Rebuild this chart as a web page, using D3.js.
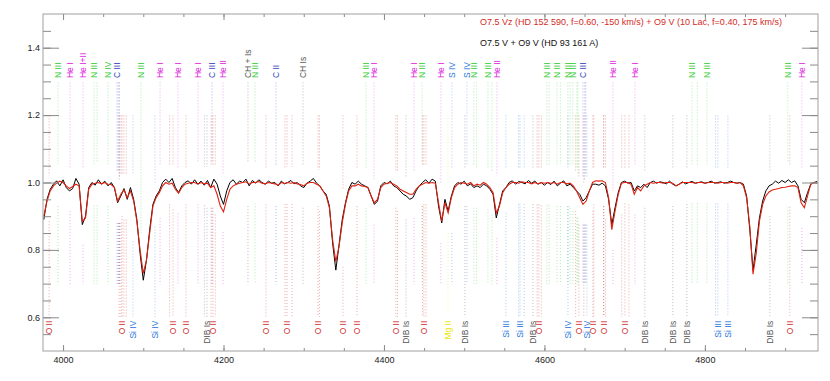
<!DOCTYPE html>
<html>
<head>
<meta charset="utf-8">
<script src="https://cdn.jsdelivr.net/npm/d3@7"></script>
<style>
body { margin: 0; background: #fff; }
svg { display: block; font-family: "Liberation Sans", Arial, sans-serif; }
</style>
</head>
<body>
<div id="main"></div>
<script>
// wavelength grid of the spectra (Angstrom)
const waveStart = 3976, waveStep = 4;

// O7.5 V + O9 V (HD 93 161 A), black
const fluxObserved = [
    0.89, 0.95, 0.98, 0.995, 1.005, 0.99, 1.008, 0.985, 0.975, 0.982,
    1.012, 0.995, 0.875, 0.9, 0.985, 1.0, 0.992, 1.008, 0.995, 1.004,
    0.99, 1.0, 0.985, 0.94, 0.96, 0.982, 0.95, 0.985, 0.95, 0.89,
    0.79, 0.71, 0.77, 0.86, 0.935, 0.96, 0.975, 1.0, 1.01, 1.0,
    1.012, 0.985, 0.97, 0.99, 1.0, 1.005, 0.995, 1.008, 0.995, 1.004,
    0.992, 1.006, 0.985, 1.01, 0.995, 0.96, 0.935, 0.975, 1.0, 1.008,
    0.995, 1.004, 1.0, 1.01, 0.99, 1.006, 0.998, 1.008, 1.0, 0.995,
    1.004, 0.998, 1.0, 0.99, 1.004, 0.996, 1.0, 1.006, 0.996, 1.0,
    0.99, 0.985, 0.998, 1.004, 1.012, 0.998, 0.99, 0.975, 0.965, 0.93,
    0.82, 0.74, 0.815, 0.89, 0.94, 0.98, 1.0, 0.995, 1.004, 0.995,
    0.99, 0.985, 0.96, 0.935, 0.945, 0.99, 1.0, 0.996, 1.004, 0.99,
    0.985, 0.975, 0.965, 0.96, 0.95, 0.955, 0.975, 0.99, 1.0, 1.008,
    0.998, 1.01, 1.004, 0.93, 0.88, 0.95, 0.915, 0.96, 0.99, 1.0,
    0.995, 1.004, 0.99, 0.996, 0.985, 0.99, 0.985, 0.995, 0.99, 0.98,
    0.965, 0.895, 0.935, 0.975, 0.985, 1.0, 1.005, 0.995, 1.003, 1.0,
    0.996, 1.006, 0.998, 1.004, 0.995, 1.0, 0.992, 1.0, 0.994, 1.004,
    0.99, 0.998, 1.005, 0.99, 0.995, 0.985, 0.975, 0.965, 0.945, 0.955,
    0.975, 0.995, 0.995, 0.992, 0.998, 0.99, 0.95, 0.875, 0.925, 0.97,
    1.0, 1.004, 0.998, 1.0, 0.975, 0.99, 0.985, 0.995, 0.985, 1.0,
    1.004, 0.998, 1.002, 1.0, 0.996, 1.004, 0.995, 0.99, 0.995, 1.002,
    0.996, 1.0, 1.003, 0.998, 1.0, 1.002, 0.998, 1.0, 1.004, 0.998,
    1.0, 1.002, 0.998, 1.0, 1.004, 1.0, 0.998, 1.0, 0.995, 0.96,
    0.86, 0.74, 0.815, 0.895, 0.945, 0.975, 0.99, 0.995, 1.004, 0.998,
    1.006, 1.0, 1.008, 1.0, 1.005, 0.99, 0.95, 0.94, 0.97, 0.995,
    1.0, 1.003
];

// O7.5 Vz (HD 152 590) + O9 V (10 Lac) model, red
const fluxModel = [
    0.90, 0.945, 0.975, 0.99, 0.998, 1.004, 1.0, 0.99, 0.982, 0.988,
    0.995, 0.99, 0.885, 0.895, 0.98, 0.995, 0.998, 1.0, 0.996, 1.0,
    0.995, 0.994, 0.985, 0.945, 0.965, 0.978, 0.955, 0.975, 0.945, 0.885,
    0.8, 0.73, 0.77, 0.85, 0.93, 0.955, 0.97, 0.99, 1.0, 0.995,
    0.998, 0.98, 0.968, 0.985, 0.995, 0.998, 1.0, 1.0, 0.995, 1.0,
    0.996, 0.998, 0.985, 0.99, 0.965, 0.93, 0.913, 0.95, 0.98, 0.99,
    0.995, 0.998, 1.0, 1.002, 0.995, 1.0, 1.0, 1.003, 0.998, 0.996,
    1.0, 0.998, 0.996, 0.992, 1.0, 0.997, 1.0, 0.998, 1.0, 0.996,
    0.994, 0.99, 0.998, 1.0, 1.0, 0.995, 0.99, 0.975, 0.96, 0.925,
    0.83, 0.765, 0.81, 0.88, 0.935, 0.975, 0.99, 0.99, 0.995, 0.99,
    0.988, 0.985, 0.96, 0.94, 0.95, 0.985, 0.995, 0.998, 1.0, 0.995,
    0.99, 0.98, 0.975, 0.97, 0.965, 0.965, 0.98, 0.99, 0.995, 1.0,
    0.998, 1.0, 0.998, 0.94, 0.885, 0.94, 0.91, 0.955, 0.985, 0.995,
    1.0, 0.998, 0.995, 1.0, 0.99, 0.995, 0.992, 1.0, 0.995, 0.985,
    0.97, 0.91, 0.93, 0.97, 0.985, 0.995, 1.0, 1.0, 0.998, 1.002,
    1.0, 1.0, 0.996, 1.0, 0.996, 1.0, 0.998, 1.0, 0.998, 1.0,
    0.995, 1.0, 1.0, 0.996, 0.998, 0.99, 0.975, 0.955, 0.935, 0.945,
    0.975, 1.0, 1.005, 1.004, 1.005, 1.0, 0.955, 0.86, 0.915, 0.965,
    0.998, 1.0, 1.0, 0.995, 0.965, 0.985, 0.975, 0.99, 0.995, 1.0,
    0.998, 1.0, 1.0, 0.998, 1.0, 1.0, 0.998, 0.99, 0.995, 1.0,
    1.0, 1.0, 1.0, 0.998, 1.0, 1.0, 0.998, 1.0, 1.0, 1.0,
    0.998, 1.0, 1.0, 0.998, 1.0, 1.0, 0.998, 1.0, 0.99, 0.955,
    0.87, 0.728, 0.79, 0.885, 0.935, 0.96, 0.972, 0.978, 0.98, 0.982,
    0.985, 0.986, 0.988, 0.99, 0.99, 0.985, 0.94, 0.925, 0.96, 0.995,
    1.0, 0.998
];

// line identifications: [wavelength, ion, label] -- empty label = extra component
const topLines = [
    [3993.8, "N", "N III"], [4008.7, "He", "He I"], [4024.9, "He", "He I+II"],
    [4038.6, "N", "N III"], [4042.4, "N", ""], [4056.1, "N", "N IV"],
    [4067.3, "C", "C III"], [4068.9, "C", ""], [4070.4, "C", ""],
    [4097.2, "N", "N III"], [4120.9, "He", "He I"], [4143.3, "He", "He I"],
    [4168.2, "He", "He I"], [4185.7, "C", "C III"], [4199.4, "He", "He II"],
    [4230.5, "IS", "CH + Is"], [4239.3, "N", "N III"], [4265.4, "C", "C II"],
    [4299.1, "IS", "CH Is"], [4377.6, "N", "N III"], [4387.5, "He", "He I"],
    [4437.4, "He", "He I"], [4447.4, "N", "N III"], [4471.0, "He", "He I"],
    [4484.7, "S", "S IV"], [4503.4, "S", "S IV"], [4512.1, "N", "N III"],
    [4515.5, "N", ""], [4529.6, "N", "N III"], [4534.6, "N", ""],
    [4540.8, "He", "He II"], [4603.1, "N", "N III"], [4606.0, "N", ""],
    [4615.6, "N", "N III"], [4619.9, "N", ""], [4629.3, "N", "N III"],
    [4632.0, "N", ""], [4635.5, "N", "N III"], [4640.6, "N", ""], [4641.8, "N", ""],
    [4648.0, "C", "C III"], [4650.3, "C", ""], [4651.5, "C", ""],
    [4685.4, "He", "He II"], [4712.8, "He", "He I"], [4783.8, "N", "N III"],
    [4790.5, "N", ""], [4802.5, "N", "N III"], [4903.4, "N", "N III"],
    [4920.9, "He", "He I"]
];

const bottomLines = [
    [3982.6, "O", "O II"], [4069.9, "O", ""], [4072.2, "O", ""], [4073.5, "O", "O II"],
    [4075.9, "O", ""], [4078.8, "O", ""], [4087.2, "Si", "Si IV"], [4114.6, "Si", "Si IV"],
    [4132.8, "O", ""], [4137.1, "O", "O II"], [4153.3, "O", "O II"],
    [4176.2, "IS", ""], [4179.4, "IS", "DIB Is"], [4184.5, "O", ""], [4186.9, "O", "O II"],
    [4189.8, "O", ""], [4253.0, "O", "O II"], [4276.6, "O", ""], [4279.1, "O", "O II"],
    [4285.4, "O", ""], [4317.8, "O", "O II"], [4319.6, "O", ""], [4348.9, "O", "O II"],
    [4366.4, "O", "O II"], [4414.9, "O", "O II"], [4416.9, "O", ""],
    [4427.4, "IS", "DIB Is"], [4448.2, "O", ""], [4449.8, "O", "O II"], [4452.4, "O", ""],
    [4479.8, "Mg", "Mg II"], [4500.9, "IS", "DIB Is"], [4552.0, "Si", "Si III"],
    [4567.8, "Si", ""], [4569.5, "Si", "Si III"], [4574.8, "Si", ""],
    [4585.7, "IS", "DIB Is"], [4590.9, "O", ""], [4593.1, "O", "O II"], [4596.2, "O", ""],
    [4629.3, "Si", "Si IV"], [4638.9, "O", ""], [4643.0, "O", "O II"], [4649.1, "O", ""],
    [4653.0, "Si", "Si IV"], [4660.4, "O", "O II"], [4661.6, "O", ""],
    [4673.7, "O", ""], [4674.1, "O", "O II"], [4676.2, "O", ""],
    [4696.4, "O", ""], [4700.3, "O", "O II"], [4705.4, "O", ""],
    [4725.2, "IS", "DIB Is"], [4760.1, "IS", "DIB Is"], [4777.6, "IS", "DIB Is"],
    [4813.3, "Si", ""], [4816.2, "Si", "Si III"], [4828.7, "Si", "Si III"],
    [4881.0, "IS", "DIB Is"], [4905.9, "O", "O II"]
];

const ionColors = {
    N: "#33cc33", He: "#dd22dd", C: "#3040c0", IS: "#555555",
    O: "#d02828", Si: "#2a78dc", S: "#2a78dc", Mg: "#e6e600"
};

const legendLines = [
    {text: "O7.5 Vz (HD 152 590, f=0.60, -150 km/s) + O9 V (10 Lac, f=0.40, 175 km/s)", color: "#d42a1e"},
    {text: "O7.5 V + O9 V (HD 93 161 A)", color: "#111"}
];

const xMajor = [4000, 4200, 4400, 4600, 4800];
const yMajor = [0.6, 0.8, 1.0, 1.2, 1.4];

const width = 830, height = 381;
const x = d3.scaleLinear().domain([3975, 4941]).range([43, 818]);
const y = d3.scaleLinear().domain([0.5, 1.5]).range([351, 14]);

const wavelengths = fluxObserved.map((_, i) => waveStart + i * waveStep);
const observed = wavelengths.map((w, i) => [w, fluxObserved[i]]);
const model = wavelengths.map((w, i) => [w, fluxModel[i]]);

// min / max flux of both spectra around a wavelength, to leave a gap for the dotted marks
function fluxRange(w, half) {
    const vals = [];
    wavelengths.forEach((wl, i) => {
        if (Math.abs(wl - w) <= half) vals.push(fluxObserved[i], fluxModel[i]);
    });
    return d3.extent(vals);
}

const svg = d3.select("#main").append("svg")
    .attr("width", width)
    .attr("height", height);

// dotted identification marks
function drawMarks(lines, top, bottom, pad) {
    const g = svg.append("g");
    lines.forEach(([w, ion]) => {
        const [lo, hi] = fluxRange(w, 5);
        const segs = [[top, hi + pad], [lo - 0.06, bottom]].filter(([a, b]) => a > b);
        segs.forEach(([a, b]) => {
            g.append("line")
                .attr("x1", x(w)).attr("x2", x(w))
                .attr("y1", y(a)).attr("y2", y(b))
                .attr("stroke", ionColors[ion])
                .attr("stroke-opacity", 0.4)
                .attr("stroke-width", 1)
                .attr("stroke-dasharray", "1,2");
        });
    });
}
drawMarks(topLines, 1.297, 0.698, 0.05);
drawMarks(bottomLines, 1.199, 0.601, 0.04);

// labels, rotated
svg.append("g")
    .selectAll("text")
    .data(topLines.filter(d => d[2]))
    .join("text")
    .attr("transform", d => `translate(${x(d[0])},${y(1.31)}) rotate(-90)`)
    .attr("dy", "0.35em")
    .attr("font-size", 8.5)
    .attr("fill", d => ionColors[d[1]])
    .text(d => d[2]);

svg.append("g")
    .selectAll("text")
    .data(bottomLines.filter(d => d[2]))
    .join("text")
    .attr("transform", d => `translate(${x(d[0])},${y(0.59)}) rotate(-90)`)
    .attr("dy", "0.35em")
    .attr("text-anchor", "end")
    .attr("font-size", 8.5)
    .attr("fill", d => ionColors[d[1]])
    .text(d => d[2]);

// spectra
const line = d3.line()
    .x(d => x(d[0]))
    .y(d => y(d[1]));

svg.append("path")
    .attr("d", line(observed))
    .attr("fill", "none")
    .attr("stroke", "#000")
    .attr("stroke-width", 1);

svg.append("path")
    .attr("d", line(model))
    .attr("fill", "none")
    .attr("stroke", "#e0200f")
    .attr("stroke-width", 1.1);

// axes, ticks drawn inward on all four sides
const tickColor = "#8a8a8a";
function styleAxis(g) {
    g.select(".domain").remove();
    g.selectAll(".tick line").attr("stroke", tickColor);
    g.selectAll(".tick text").attr("fill", "#222").attr("font-size", 9)
        .attr("font-family", "'Liberation Sans', Arial, sans-serif");
}
const xMinor = d3.range(4000, 4941, 50);
const yMinor = d3.range(0.55, 1.5, 0.05);

svg.append("g").attr("transform", "translate(0,351)")
    .call(d3.axisBottom(x).tickValues(xMinor).tickSize(-3).tickFormat(""))
    .call(styleAxis);
svg.append("g").attr("transform", "translate(0,351)")
    .call(d3.axisBottom(x).tickValues(xMajor).tickSize(-6).tickPadding(6).tickFormat(d3.format("d")))
    .call(styleAxis);
svg.append("g").attr("transform", "translate(0,14)")
    .call(d3.axisTop(x).tickValues(xMinor).tickSize(-3).tickFormat(""))
    .call(styleAxis);
svg.append("g").attr("transform", "translate(0,14)")
    .call(d3.axisTop(x).tickValues(xMajor).tickSize(-6).tickFormat(""))
    .call(styleAxis);

svg.append("g").attr("transform", "translate(43,0)")
    .call(d3.axisLeft(y).tickValues(yMinor).tickSize(-8).tickFormat(""))
    .call(styleAxis);
svg.append("g").attr("transform", "translate(43,0)")
    .call(d3.axisLeft(y).tickValues(yMajor).tickSize(-16).tickPadding(3).tickFormat(d3.format(".1f")))
    .call(styleAxis);
svg.append("g").attr("transform", "translate(818,0)")
    .call(d3.axisRight(y).tickValues(yMinor).tickSize(-8).tickFormat(""))
    .call(styleAxis);
svg.append("g").attr("transform", "translate(818,0)")
    .call(d3.axisRight(y).tickValues(yMajor).tickSize(-16).tickFormat(""))
    .call(styleAxis);

// frame
svg.append("rect")
    .attr("x", 43).attr("y", 14)
    .attr("width", 775).attr("height", 337)
    .attr("fill", "none")
    .attr("stroke", "#a0a0a0")
    .attr("stroke-width", 1);

// legend
svg.append("g")
    .selectAll("text")
    .data(legendLines)
    .join("text")
    .attr("x", 480)
    .attr("y", (d, i) => 25 + i * 21)
    .attr("font-size", 9)
    .attr("fill", d => d.color)
    .text(d => d.text);
</script>
</body>
</html>
